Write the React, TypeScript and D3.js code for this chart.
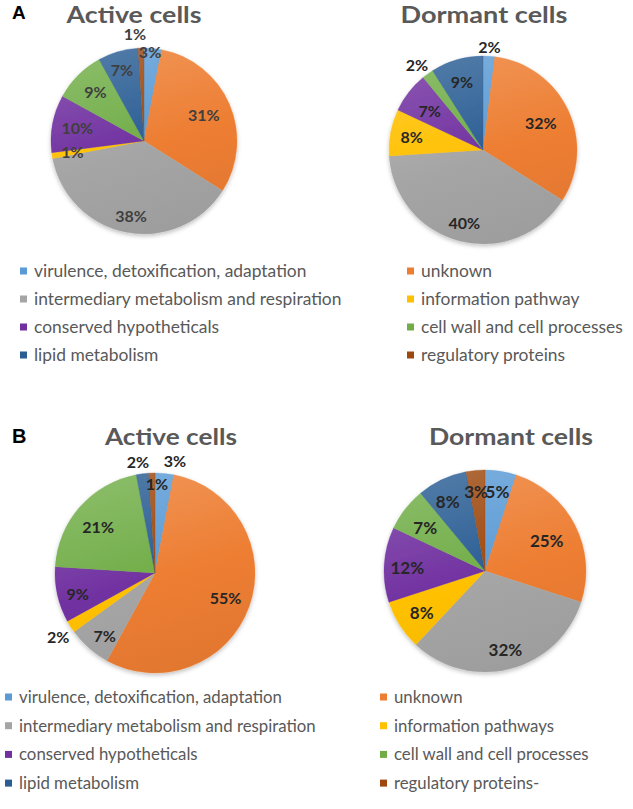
import React from "react";
import * as d3 from "d3";

// ---------- data ----------
const legendLabelsA = [
  "virulence, detoxification, adaptation",
  "unknown",
  "intermediary metabolism and respiration",
  "information pathway",
  "conserved hypotheticals",
  "cell wall and cell processes",
  "lipid metabolism",
  "regulatory proteins",
];
const legendLabelsB = [
  "virulence, detoxification, adaptation",
  "unknown",
  "intermediary metabolism and respiration",
  "information pathways",
  "conserved hypotheticals",
  "cell wall and cell processes",
  "lipid metabolism",
  "regulatory proteins-",
];
const activeA = [3, 31, 38, 1, 10, 9, 7, 1];
const dormantA = [2, 32, 40, 8, 7, 2, 9, 0];
const activeB = [3, 55, 7, 2, 9, 21, 2, 1];
const dormantB = [5, 25, 32, 8, 12, 7, 8, 3];
const titles = ["Active cells", "Dormant cells"];
const panelLetters = ["A", "B"];

// ---------- style ----------
const colors = ["#5B9BD5", "#ED7D31", "#A5A5A5", "#FFC000", "#7030A0", "#70AD47", "#2A5D94", "#9E480E"];
const FONT = "Lato, 'Open Sans', sans-serif";

type LabelPos = [number, number]; // radius factor, angle offset (deg)
interface PieCfg {
  id: string;
  values: number[];
  cx: number;
  cy: number;
  r: number;
  title: string;
  tx: number;
  ty: number;
  tw: number;
  labelColor: string;
  labelSize: number;
  labelPos: LabelPos[];
}

const pies: PieCfg[] = [
  {
    id: "aa", values: activeA, cx: 144, cy: 141, r: 93, title: titles[0], tx: 134, ty: 23.3, tw: 135,
    labelColor: "#3f3f3f", labelSize: 16,
    labelPos: [[0.96, -1.5], [0.7, 0], [0.82, -1], [0.78, 0], [0.73, 0], [0.74, 0], [0.8, -1], [1.15, -3]],
  },
  {
    id: "ad", values: dormantA, cx: 483, cy: 150, r: 94, title: titles[1], tx: 484, ty: 23.3, tw: 167,
    labelColor: "#262626", labelSize: 16,
    labelPos: [[1.1, 0], [0.68, 0], [0.8, 0], [0.77, -1], [0.7, -2], [1.14, -2], [0.76, -1], [1, 0]],
  },
  {
    id: "ba", values: activeB, cx: 155, cy: 573, r: 100, title: titles[0], tx: 171, ty: 445, tw: 132,
    labelColor: "#262626", labelSize: 16,
    labelPos: [[1.14, 4.7], [0.75, 0], [0.81, -3], [1.16, -1], [0.8, -2.5], [0.73, -2.5], [1.12, -1.5], [0.89, 3]],
  },
  {
    id: "bd", values: dormantB, cx: 485, cy: 571, r: 101, title: titles[1], tx: 511, ty: 445, tw: 164,
    labelColor: "#262626", labelSize: 17,
    labelPos: [[0.79, 0], [0.68, 1], [0.81, 0], [0.75, -1], [0.77, -1.5], [0.73, -2], [0.78, -3], [0.79, -1]],
  },
];

interface LegendCfg {
  labels: string[];
  leftX: number;
  rightX: number;
  y0: number;
  dy: number;
  size: number;
}
const legends: LegendCfg[] = [
  { labels: legendLabelsA, leftX: 20, rightX: 407, y0: 271, dy: 28, size: 17.4 },
  { labels: legendLabelsB, leftX: 5, rightX: 380, y0: 697, dy: 28.7, size: 16.8 },
];

function lighten(c: string, k: number) {
  return d3.interpolateRgb(c, "#ffffff")(k);
}
function darken(c: string, k: number) {
  return d3.interpolateRgb(c, "#000000")(k);
}

function Pie({ cfg }: { cfg: PieCfg }) {
  const pie = d3.pie<number>().sort(null).value((d) => d).startAngle(0).endAngle(2 * Math.PI);
  const arcs = pie(cfg.values);
  const arc = d3.arc<d3.PieArcDatum<number>>().innerRadius(0).outerRadius(cfg.r);
  return (
    <g>
      <defs>
        {colors.map((c, i) => (
          <linearGradient
            key={i}
            id={`${cfg.id}-g${i}`}
            gradientUnits="userSpaceOnUse"
            x1={-cfg.r * 0.3}
            y1={-cfg.r}
            x2={cfg.r * 0.3}
            y2={cfg.r}
          >
            <stop offset="0%" stopColor={lighten(c, 0.18)} />
            <stop offset="55%" stopColor={c} />
            <stop offset="100%" stopColor={darken(c, 0.05)} />
          </linearGradient>
        ))}
      </defs>
      <g transform={`translate(${cfg.cx},${cfg.cy})`} filter="url(#pieShadow)">
        {arcs.map((a, i) =>
          a.value > 0 ? (
            <path key={i} d={arc(a) || ""} fill={`url(#${cfg.id}-g${i})`} stroke={colors[i]} strokeWidth={0.3} />
          ) : null
        )}
      </g>
      {arcs.map((a, i) => {
        if (a.value <= 0) return null;
        const [k, off] = cfg.labelPos[i];
        const ang = (a.startAngle + a.endAngle) / 2 + (off * Math.PI) / 180;
        const x = cfg.cx + k * cfg.r * Math.sin(ang);
        const y = cfg.cy - k * cfg.r * Math.cos(ang);
        return (
          <text key={`l${i}`} x={x} y={y} dy="0.36em" textAnchor="middle" fontFamily={FONT}
            fontWeight={700} fontSize={cfg.labelSize} fill={cfg.labelColor}>
            {`${a.value}%`}
          </text>
        );
      })}
      <text x={cfg.tx - cfg.tw / 2} y={cfg.ty} textLength={cfg.tw} lengthAdjust="spacingAndGlyphs"
        fontFamily={FONT} fontWeight={700} fontSize={23.5} fill="#595959">
        {cfg.title}
      </text>
    </g>
  );
}

function Legend({ cfg }: { cfg: LegendCfg }) {
  return (
    <g>
      {cfg.labels.map((lab, i) => {
        const col = i % 2;
        const row = Math.floor(i / 2);
        const x = col === 0 ? cfg.leftX : cfg.rightX;
        const y = cfg.y0 + row * cfg.dy;
        return (
          <g key={i}>
            <rect x={x} y={y - 3.5} width={7} height={7} fill={colors[i]} />
            <text x={x + 14} y={y} dy="0.35em" fontFamily={FONT} fontSize={cfg.size} fill="#595959">
              {lab}
            </text>
          </g>
        );
      })}
    </g>
  );
}

export default function App() {
  return (
    <svg width={633} height={809} style={{ position: "absolute", left: 0, top: 0, background: "#fff" }}>
      <defs>
        <filter id="pieShadow" x="-20%" y="-20%" width="140%" height="140%">
          <feDropShadow dx="0" dy="2" stdDeviation="2" floodColor="#000" floodOpacity="0.25" />
        </filter>
      </defs>
      <rect x={0} y={0} width={633} height={809} fill="#fff" />
      {pies.map((p) => (
        <Pie key={p.id} cfg={p} />
      ))}
      {legends.map((l, i) => (
        <Legend key={i} cfg={l} />
      ))}
      <text x={12} y={19} fontFamily="'Liberation Sans', Arial, sans-serif" fontWeight={700} fontSize={19} fill="#000">
        {panelLetters[0]}
      </text>
      <text x={12} y={443} fontFamily="'Liberation Sans', Arial, sans-serif" fontWeight={700} fontSize={20} fill="#000">
        {panelLetters[1]}
      </text>
    </svg>
  );
}
